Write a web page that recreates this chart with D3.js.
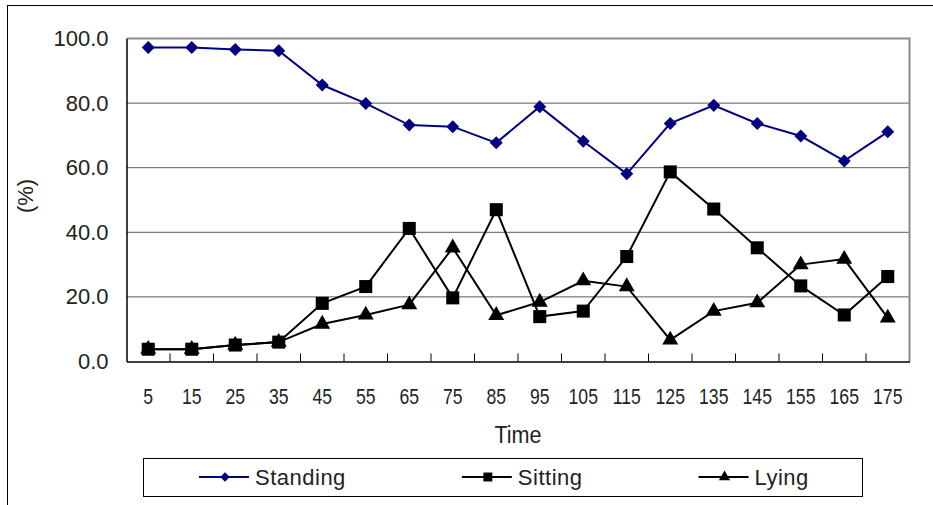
<!DOCTYPE html>
<html>
<head>
<meta charset="utf-8">
<script src="https://cdn.jsdelivr.net/npm/d3@7"></script>
<style>
  body { margin: 0; background: #fff; }
  svg { display: block; font-family: "Liberation Sans", Arial, sans-serif; }
</style>
</head>
<body>
<svg></svg>
<script>
// Chart data
var times = [5, 15, 25, 35, 45, 55, 65, 75, 85, 95, 105, 115, 125, 135, 145, 155, 165, 175]
var standing = [97.2, 97.2, 96.6, 96.2, 85.6, 79.9, 73.2, 72.7, 67.7, 78.9, 68.2, 58.1, 73.7, 79.3, 73.7, 69.8, 62.1, 71.1]
var sitting = [3.8, 3.8, 5.1, 6.0, 18.0, 23.2, 41.2, 19.7, 47.0, 13.9, 15.6, 32.5, 58.7, 47.2, 35.2, 23.4, 14.4, 26.3]
var lying = [3.8, 3.8, 5.1, 6.0, 11.6, 14.4, 17.6, 35.2, 14.3, 18.4, 25.0, 23.2, 6.7, 15.6, 18.2, 30.0, 31.7, 13.5]
var yTicks = [0, 20, 40, 60, 80, 100]
var seriesNames = ["Standing", "Sitting", "Lying"]

var width = 933,
    height = 505

var svg = d3.select("svg")
    .attr("width", width)
    .attr("height", height)

// Plot area bounds
var plotLeft = 126.5, plotRight = 909.5, plotTop = 38.5, plotBottom = 361.5

var x = d3.scaleBand()
    .domain(times)
    .range([plotLeft, plotRight])

var y = d3.scaleLinear()
    .domain([0, 100])
    .range([plotBottom, plotTop])

// Outer chart frame
svg.append("rect")
    .attr("x", 7.5)
    .attr("y", 5.5)
    .attr("width", 940)
    .attr("height", 520)
    .style("fill", "none")
    .style("stroke", "#000")
    .style("stroke-width", 1)

// Gridlines
svg.append("g")
    .selectAll("line")
    .data(yTicks.filter(function(d) { return d > 0 && d < 100 }))
    .enter().append("line")
    .attr("x1", plotLeft)
    .attr("x2", plotRight)
    .attr("y1", function(d) { return y(d) })
    .attr("y2", function(d) { return y(d) })
    .style("stroke", "#5a5a5a")
    .style("stroke-width", 1)

// Gray top and right border of the plot
svg.append("path")
    .attr("d", "M" + plotLeft + "," + plotTop + "H" + plotRight + "V" + plotBottom)
    .style("fill", "none")
    .style("stroke", "#8a8a8a")
    .style("stroke-width", 2)

// Y axis
var yAxis = svg.append("g")
    .attr("transform", "translate(" + plotLeft + ",0)")
    .call(d3.axisLeft(y).tickValues(yTicks).tickSize(0).tickPadding(18)
        .tickFormat(d3.format(".1f")))
yAxis.select(".domain").style("stroke", "#000").style("stroke-width", 1.5)
yAxis.selectAll("text")
    .style("font-size", "22px")
    .style("fill", "#222")

// X axis (labels), ticks at category boundaries pointing inward
var xAxis = svg.append("g")
    .attr("transform", "translate(0," + plotBottom + ")")
    .call(d3.axisBottom(x).tickSize(0).tickPadding(27))
xAxis.select(".domain").style("stroke", "#000").style("stroke-width", 1.5)
xAxis.selectAll("text")
    .style("font-size", "22px")
    .style("fill", "#222")
    .attr("transform", "scale(0.8,1)")

svg.append("g")
    .selectAll("line")
    .data(times.slice(1))
    .enter().append("line")
    .attr("x1", function(d) { return x(d) })
    .attr("x2", function(d) { return x(d) })
    .attr("y1", plotBottom)
    .attr("y2", plotBottom - 8)
    .style("stroke", "#000")
    .style("stroke-width", 1)

// Axis titles
svg.append("text")
    .attr("transform", "translate(33,196) rotate(-90)")
    .attr("text-anchor", "middle")
    .style("font-size", "22px")
    .style("fill", "#222")
    .text("(%)")

svg.append("text")
    .attr("transform", "translate(518,443) scale(0.9,1)")
    .attr("text-anchor", "middle")
    .style("font-size", "24px")
    .style("fill", "#222")
    .text("Time")

// Series definitions
var series = [
    {name: seriesNames[0], values: standing, color: "#000080", symbol: d3.symbolSquare, size: 85, rot: 45, legendSize: 45},
    {name: seriesNames[1], values: sitting, color: "#000", symbol: d3.symbolSquare, size: 170, rot: 0, legendSize: 80},
    {name: seriesNames[2], values: lying, color: "#000", symbol: d3.symbolTriangle, size: 110, rot: 0, legendSize: 55}
]

var line = d3.line()
    .x(function(d, i) { return x(times[i]) + x.bandwidth() / 2 })
    .y(function(d) { return y(d) })

series.forEach(function(s) {
    svg.append("path")
        .datum(s.values)
        .attr("d", line)
        .style("fill", "none")
        .style("stroke", s.color)
        .style("stroke-width", 2)

    svg.append("g")
        .selectAll("path")
        .data(s.values)
        .enter().append("path")
        .attr("d", d3.symbol().type(s.symbol).size(s.size))
        .attr("transform", function(d, i) {
            return "translate(" + (x(times[i]) + x.bandwidth() / 2) + "," + y(d) + ") rotate(" + s.rot + ")"
        })
        .style("fill", s.color)
})

// Legend
svg.append("rect")
    .attr("x", 143.5)
    .attr("y", 458.5)
    .attr("width", 719)
    .attr("height", 38)
    .style("fill", "#fff")
    .style("stroke", "#000")
    .style("stroke-width", 1)

var lx = 199
series.forEach(function(s) {
    var g = svg.append("g")
        .attr("transform", "translate(" + lx + ",477)")
    g.append("line")
        .attr("x1", 0)
        .attr("x2", 50)
        .style("stroke", s.color)
        .style("stroke-width", 2)
    g.append("path")
        .attr("d", d3.symbol().type(s.symbol).size(s.legendSize))
        .attr("transform", "translate(26,0) rotate(" + s.rot + ")")
        .style("fill", s.color)
    var t = g.append("text")
        .attr("x", 56)
        .attr("y", 8)
        .style("font-size", "22px")
        .style("letter-spacing", "0.5px")
        .style("fill", "#222")
        .text(s.name)
    lx += 56 + t.node().getComputedTextLength() + 116
})
</script>
</body>
</html>
